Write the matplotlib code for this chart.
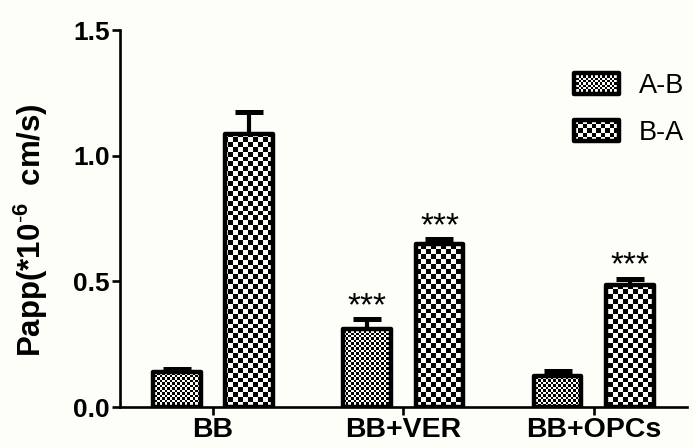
import numpy as np
import matplotlib
matplotlib.use("Agg")
import matplotlib.pyplot as plt
from matplotlib.colors import ListedColormap
from matplotlib.patches import Rectangle
from matplotlib.image import BboxImage
from matplotlib.transforms import Bbox, TransformedBbox
from matplotlib.legend_handler import HandlerBase

# ---- data ----
categories = ["BB", "BB+VER", "BB+OPCs"]
series_names = ["A-B", "B-A"]
ab_values = [0.139, 0.31, 0.125]
ab_errors = [0.012, 0.04, 0.02]
ba_values = [1.087, 0.649, 0.485]
ba_errors = [0.085, 0.018, 0.026]
ab_marks = ["", "***", ""]
ba_marks = ["", "***", "***"]
yticks = [0.0, 0.5, 1.0, 1.5]

BG = "#fefef9"
plt.rcParams["font.family"] = ["Liberation Sans", "DejaVu Sans"]
plt.rcParams["mathtext.fontset"] = "custom"
plt.rcParams["mathtext.rm"] = "Liberation Sans"
plt.rcParams["mathtext.bf"] = "Liberation Sans:bold"

W, H = 694, 448
fig = plt.figure(figsize=(W / 100, H / 100), dpi=100, facecolor=BG)
ax_l, ax_r, ax_b, ax_t = 120, 687, 41, 418
ax = fig.add_axes([ax_l / W, ax_b / H, (ax_r - ax_l) / W, (ax_t - ax_b) / H])
ax.set_facecolor(BG)
xlim = (-0.488, 2.49)
ylim = (0.0, 1.5)
ax.set_xlim(*xlim)
ax.set_ylim(*ylim)

cmap = ListedColormap([BG, "black"])


def checker_array(w_px, h_px, cell):
    nx = int(np.ceil(w_px / cell)) + 1
    ny = int(np.ceil(h_px / cell)) + 1
    i, j = np.indices((ny, nx))
    return ((i + j) % 2).astype(float)


ax_w_px = ax_r - ax_l
ax_h_px = ax_t - ax_b
fine_cell, coarse_cell = 2.5, 5.0

x = np.arange(len(categories))
offset = 0.19
bw = 0.25
edge_lw = 3.2

def draw_series(xpos, vals, errs, cell, marks):
    arr = checker_array(ax_w_px, ax_h_px, cell)
    ax.errorbar(xpos, vals, yerr=[np.zeros(len(vals)), errs], fmt="none",
                ecolor="black", elinewidth=3.0, capsize=10, capthick=3.6, zorder=1)
    bars = ax.bar(xpos, vals, width=bw, color=BG, edgecolor="none", zorder=2)
    for b in bars:
        im = ax.imshow(arr, extent=(*xlim, *ylim), cmap=cmap, vmin=0, vmax=1,
                       interpolation="nearest", aspect="auto", zorder=3)
        im.set_clip_path(b)
    edges = ax.bar(xpos, vals, width=bw, facecolor="none", edgecolor="black",
                   linewidth=edge_lw, zorder=4)
    for e in edges:
        e.set_joinstyle("round")
    for xi, v, er, m in zip(xpos, vals, errs, marks):
        if m:
            ax.annotate(m, (xi, v + er), xytext=(0, 3), textcoords="offset points",
                        ha="center", va="baseline", fontsize=24, zorder=5)
    return edges

h1 = draw_series(x - offset, ab_values, ab_errors, fine_cell, ab_marks)
h2 = draw_series(x + offset, ba_values, ba_errors, coarse_cell, ba_marks)
ax.set_xlim(*xlim)
ax.set_ylim(*ylim)


class CheckerHandler(HandlerBase):
    def __init__(self, cell):
        super().__init__()
        self.cell = cell

    def create_artists(self, legend, orig_handle, xdescent, ydescent, width,
                       height, fontsize, trans):
        x0, y0 = -xdescent, -ydescent
        bbox = TransformedBbox(Bbox.from_bounds(x0, y0, width, height), trans)
        img = BboxImage(bbox, cmap=cmap, interpolation="nearest")
        img.set_data(checker_array(width * 1.4, height * 1.4, self.cell * 1.4 * 0.75))
        img.set_clim(0, 1)
        rect = Rectangle((x0, y0), width, height, facecolor="none",
                         edgecolor="black", linewidth=edge_lw, transform=trans)
        rect.set_joinstyle("round")
        return [img, rect]


leg = ax.legend([h1, h2], series_names, loc="upper left",
                bbox_to_anchor=(574 / W, 1 - 73 / H), bbox_transform=fig.transFigure,
                frameon=False, fontsize=19.5, handlelength=1.65, handleheight=0.8,
                handletextpad=0.75, labelspacing=0.78, borderpad=0, borderaxespad=0,
                handler_map={h1: CheckerHandler(fine_cell), h2: CheckerHandler(coarse_cell)})
leg.set_clip_on(False)

for s in ["top", "right"]:
    ax.spines[s].set_visible(False)
for s in ["left", "bottom"]:
    ax.spines[s].set_linewidth(1.9)
ax.set_yticks(yticks)
ax.set_yticklabels([f"{t:.1f}" for t in yticks])
ax.set_xticks(x)
ax.set_xticklabels(categories)
ax.tick_params(axis="both", length=5.5, width=1.9, labelsize=19, pad=2)
ax.tick_params(axis="x", labelsize=20.5)
for lab in ax.get_xticklabels() + ax.get_yticklabels():
    lab.set_fontweight("bold")
ax.set_ylabel(r"Papp(*10$^{\mathbf{\text{-}6}}$  cm/s)", fontsize=22.5, fontweight="bold",
              labelpad=15)
ax.yaxis.set_label_coords(-0.123, 0.47)

fig.savefig("out.png", dpi=100, facecolor=BG)
